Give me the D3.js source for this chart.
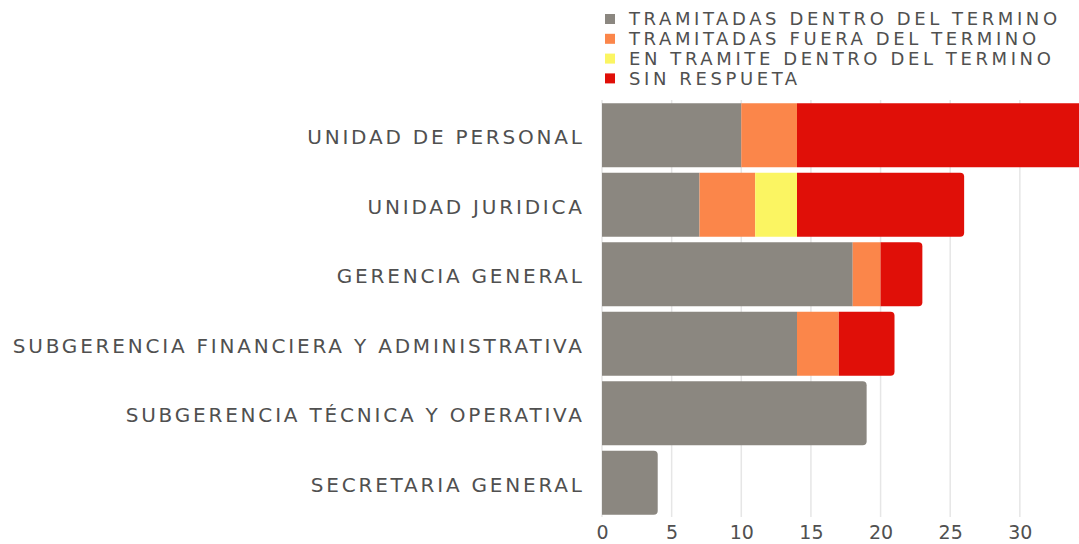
<!DOCTYPE html>
<html><head><meta charset="utf-8">
<script src="https://cdn.jsdelivr.net/npm/d3@7/dist/d3.min.js"></script>
<style>
html,body{margin:0;padding:0;background:#fff;overflow:hidden;}
svg{display:block;}
text{font-family:"DejaVu Sans",sans-serif;fill:#505050;}
</style></head>
<body>
<svg id="chart" width="1079" height="544"></svg>
<script>
const categories = ["UNIDAD DE PERSONAL","UNIDAD JURIDICA","GERENCIA GENERAL","SUBGERENCIA FINANCIERA Y ADMINISTRATIVA","SUBGERENCIA TÉCNICA Y OPERATIVA","SECRETARIA GENERAL"];
const seriesNames = ["TRAMITADAS DENTRO DEL TERMINO","TRAMITADAS FUERA DEL TERMINO","EN TRAMITE DENTRO DEL TERMINO","SIN RESPUETA"];
const dentro = [10, 7, 18, 14, 19, 4];
const fuera = [4, 4, 2, 3, 0, 0];
const enTramite = [0, 3, 0, 0, 0, 0];
const sinRespuesta = [21, 12, 3, 4, 0, 0];
const xTicks = [0, 5, 10, 15, 20, 25, 30, 35];
const colors = ["#8b8780", "#fb864a", "#fbf562", "#e00f08"];

const svg = d3.select("#chart");
const series = [dentro, fuera, enTramite, sinRespuesta];
const rows = categories.map((c, i) => {
  const o = {cat: c};
  seriesNames.forEach((s, j) => o[s] = series[j][i]);
  return o;
});
const stack = d3.stack().keys(seriesNames)(rows);

const x = d3.scaleLinear().domain([0, 35]).range([602, 1089.5]);
const y = d3.scaleBand().domain(categories).range([100.5, 517.5]).paddingInner(0.08).paddingOuter(0.04);

// gridlines
svg.append("g").selectAll("line").data(xTicks).join("line")
  .attr("x1", d => x(d)).attr("x2", d => x(d))
  .attr("y1", 100).attr("y2", 517)
  .attr("stroke", "#e6e6e6").attr("stroke-width", 1.5);

// bars
const lastIdx = rows.map(r => {
  let li = 0; seriesNames.forEach((s, j) => { if (r[s] > 0) li = j; }); return li;
});
function barPath(x0, x1, y0, h, rr) {
  if (rr <= 0) return `M${x0},${y0}H${x1}V${y0+h}H${x0}Z`;
  return `M${x0},${y0}H${x1-rr}Q${x1},${y0} ${x1},${y0+rr}V${y0+h-rr}Q${x1},${y0+h} ${x1-rr},${y0+h}H${x0}Z`;
}
stack.forEach((layer, j) => {
  svg.append("g").selectAll("path").data(layer.map((d, i) => ({d, i}))).join("path")
    .filter(o => o.d[1] - o.d[0] > 0)
    .attr("d", o => barPath(x(o.d[0]), x(o.d[1]), y(categories[o.i]), y.bandwidth(), lastIdx[o.i] === j ? 4 : 0))
    .attr("fill", colors[j]);
});

// y labels
const lblSpacing = 2.8;
svg.append("g").selectAll("text").data(categories).join("text")
  .attr("x", 582 + lblSpacing).attr("y", d => y(d) + y.bandwidth() / 2 + 2)
  .attr("dy", "0.36em").attr("text-anchor", "end")
  .style("font-size", "20px").style("letter-spacing", lblSpacing + "px").text(d => d);

// x axis
const xAxis = d3.axisBottom(x).tickValues(xTicks).tickSize(0).tickPadding(0);
const gx = svg.append("g").attr("transform", "translate(0,518)").call(xAxis);
gx.select(".domain").remove();
gx.selectAll("text").attr("y", 14.5).attr("dy", "0.36em")
  .style("font-size", "19px").style("font-family", '"DejaVu Sans",sans-serif').attr("fill", "#505050");

// legend
const lg = svg.append("g");
seriesNames.forEach((s, j) => {
  const yy = 19 + j * 19.8;
  lg.append("rect").attr("x", 605).attr("y", yy - 5).attr("width", 10).attr("height", 10).attr("fill", colors[j]);
  lg.append("text").attr("x", 629).attr("y", yy).attr("dy", "0.36em")
    .style("font-size", "18px").style("letter-spacing", "3.6px").text(s);
});
</script>
</body></html>
